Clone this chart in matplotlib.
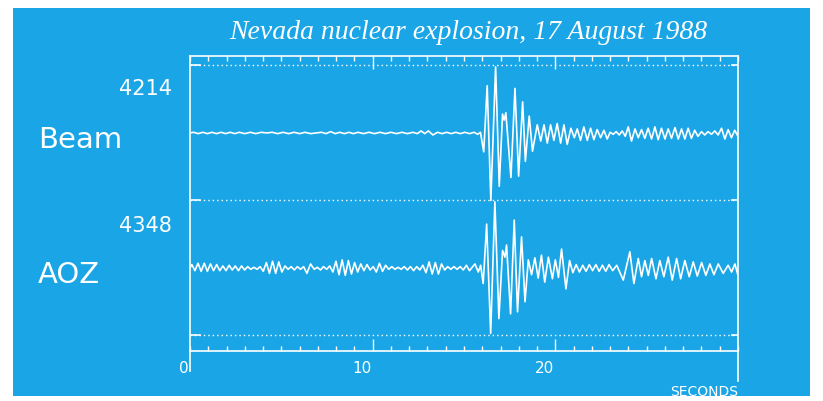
import numpy as np
import matplotlib.pyplot as plt
from matplotlib.patches import Rectangle
from matplotlib.ticker import MultipleLocator

# seismogram traces: time (s), amplitude (% of full scale)
beam_t = [0.0, 0.2, 0.45, 0.7, 0.95, 1.2, 1.45, 1.7, 1.95, 2.2,
          2.45, 2.7, 3.0, 3.3, 3.6, 3.9, 4.2, 4.5, 4.8, 5.1,
          5.4, 5.7, 6.0, 6.3, 6.6, 6.9,
          7.2, 7.45, 7.7, 7.95, 8.2, 8.45, 8.7, 8.95, 9.2, 9.5,
          9.8, 10.1, 10.4, 10.7, 11.0, 11.3, 11.6, 11.9, 12.2, 12.45,
          12.65, 12.85, 13.05, 13.3, 13.55, 13.8, 14.05, 14.3, 14.55, 14.8,
          15.05, 15.3, 15.55, 15.75, 15.9, 16.08,
          16.27, 16.47, 16.73, 16.93, 17.11, 17.2, 17.29, 17.57, 17.79, 17.99,
          18.21, 18.36, 18.57, 18.75,
          19.01, 19.2, 19.38, 19.56, 19.74, 19.92, 20.1, 20.29, 20.47, 20.65,
          20.85, 21.04, 21.2, 21.38, 21.56, 21.75, 21.93, 22.11, 22.29, 22.48,
          22.66, 22.84,
          23.0, 23.17, 23.33, 23.5, 23.66, 23.83, 23.99,
          24.17, 24.36, 24.54, 24.72, 24.9, 25.08, 25.27, 25.45, 25.63, 25.81,
          26.0, 26.18, 26.36, 26.55, 26.73, 26.91, 27.09, 27.27, 27.45, 27.63,
          27.81, 28.0, 28.18, 28.36, 28.55, 28.73, 28.91, 29.1, 29.28, 29.46,
          29.64, 29.82, 30.0]
beam_amp = [0, 1, -1, 1, -1, 1, -1, 1, -1, 1,
            -1, 1, -1, 1, -1, 1, 0, 1, -1, 1,
            -1, 1, -1, 1, -1, 0,
            1, -1, 2, -1, 1, -1, 1, -1, 1, -1,
            1, -1, 1, -1, 1, -1, 1, -1, 1, -1,
            3, -1, 3, -3, 1, -1, 1, -1, 1, -1,
            1, -1, 1, -2, 1, -28,
            70, -100, 98, -79, 28, 19, 30, -66, 66, -64,
            46, -42, 25, -27,
            12, -12, 12, -15, 12, -11, 14, -15, 12, -17,
            7, -7, 6, -11, 9, -11, 7, -10, 5, -7,
            4, -9,
            1, -2, 2, -3, 3, -5, 9,
            -12, 6, -7, 5, -8, 7, -9, 9, -10, 7,
            -9, 6, -8, 8, -9, 6, -9, 7, -8, 4,
            -5, 2, -3, 2, -2, 3, -3, 7, -9, 5,
            -7, 4, -5]

aoz_t = [0.0, 0.1, 0.27, 0.44, 0.61, 0.78, 0.95, 1.12, 1.29, 1.46,
         1.63, 1.8, 1.97, 2.14, 2.31, 2.48, 2.65, 2.82, 2.99, 3.16, 3.33,
         3.5, 3.67, 3.84,
         4.01, 4.18, 4.35, 4.52, 4.69, 4.86, 5.03, 5.2,
         5.37, 5.54, 5.71, 5.88, 6.05, 6.22,
         6.4, 6.6, 6.8,
         6.97, 7.14, 7.31, 7.48, 7.65,
         7.82, 7.99, 8.16, 8.33, 8.5, 8.67, 8.84, 9.01, 9.18,
         9.35, 9.52, 9.69, 9.86,
         10.03, 10.2, 10.37, 10.54, 10.71,
         10.88, 11.05, 11.22, 11.39, 11.56, 11.73, 11.9, 12.07, 12.24, 12.41, 12.58,
         12.75, 12.92, 13.09, 13.26, 13.43, 13.6, 13.77,
         13.94, 14.11, 14.28, 14.45, 14.62, 14.79,
         14.96, 15.13, 15.3,
         15.6, 15.78, 15.91, 16.05, 16.24, 16.46, 16.69, 16.91, 17.11, 17.24,
         17.33, 17.55, 17.75, 17.93, 18.15, 18.34, 18.52, 18.7, 18.88, 19.06,
         19.24, 19.42, 19.62, 19.84, 20.0, 20.17, 20.34, 20.58, 20.78, 20.96,
         21.14, 21.32, 21.5, 21.68, 21.86, 22.04, 22.22, 22.4, 22.58, 22.76,
         22.94, 23.14, 23.36, 23.72, 24.08, 24.3, 24.54, 24.72, 24.9, 25.09,
         25.27, 25.51, 25.72, 25.94, 26.18, 26.4, 26.64, 26.86, 27.09, 27.33,
         27.55, 27.77, 28.01, 28.24, 28.46, 28.68, 28.92, 29.19, 29.46, 29.65,
         29.83, 30.0]
aoz_amp = [0, 5, -4, 7, -5, 7, -5, 6, -4, 5,
           -4, 3, -4, 4, -3, 3, -4, 3, -3, 2, -2,
           1, -2, 2,
           -5, 8, -8, 10, -8, 9, -6, 3,
           -2, 2, -3, 2, -2, 2,
           -8, 6, -2,
           1, -3, 2, -2, 3,
           -6, 10, -10, 12, -11, 11, -9, 8, -6,
           6, -4, 5, -3,
           2, -6, 7, -5, 4,
           -2, 2, -2, 1, -2, 2, -3, 2, -4, 2, -3,
           4, -7, 9, -9, 8, -9, 6,
           -3, 2, -2, 2, -2, 2,
           -3, 4, -4,
           6, -6, 4, -23, 65, -97, 98, -75, 26, 16,
           34, -68, 71, -65, 46, -50, 12, -10, 15, -15,
           19, -21, 16, -16, 12, -14, 28, -31, 11, -7,
           5, -6, 4, -5, 5, -4, 5, -5, 4, -5,
           5, -4, 4, -18, 24, -23, 14, -13, 11, -11,
           14, -16, 11, -13, 16, -18, 14, -16, 11, -13,
           9, -12, 8, -11, 6, -10, 6, -8, 4, -6,
           6, -11]

trace_names = ['Beam', 'AOZ']
trace_scale = ['4214', '4348']
trace_offset = [0, -200]
xtick_labels = [0, 10, 20]
title = 'Nevada nuclear explosion, 17 August 1988'

W, H = 823, 402
BLUE = '#1aa6e6'

fig = plt.figure(figsize=(W / 100, H / 100), dpi=100)
fig.patch.set_facecolor('white')
fig.add_artist(Rectangle((13 / W, 1 - 397 / H), 797 / W, 388 / H, transform=fig.transFigure,
                         facecolor=BLUE, edgecolor='none', zorder=-1))

ax = fig.add_axes([190 / W, 1 - 352 / H, 548 / W, 295 / H])
ax.set_facecolor('none')
ax.set_xlim(0, 30)
ax.set_ylim(-323, 114)
for s in ax.spines.values():
    s.set_color('white')
    s.set_linewidth(1.2)
ax.set_yticks([])
ax.set_xticks([10, 20])
ax.xaxis.set_minor_locator(MultipleLocator(1))
ax.tick_params(axis='x', which='both', direction='in', top=True, bottom=True,
               color='white', width=1, labelbottom=False)
ax.tick_params(axis='x', which='major', length=9)
ax.tick_params(axis='x', which='minor', length=3.5)

# full-scale lines (dotted, with short solid ends)
for y in (100, -100, -300):
    ax.axhline(y, color='white', lw=1, ls=(0, (1, 2.2)))
    ax.plot([0, 0.55], [y, y], color='white', lw=1.2)
    ax.plot([29.65, 30], [y, y], color='white', lw=1.2)

ax.plot(beam_t, np.array(beam_amp) + trace_offset[0], color='white', lw=1.2,
        solid_joinstyle='round')
ax.plot(aoz_t, np.array(aoz_amp) + trace_offset[1], color='white', lw=1.2,
        solid_joinstyle='round')

# frame lines running past the time axis
ax.plot([0, 0], [0, -20 / 295], transform=ax.transAxes, color='white', lw=1.2, clip_on=False)
ax.plot([1, 1], [0, -30 / 295], transform=ax.transAxes, color='white', lw=1.2, clip_on=False)

for v in xtick_labels:
    ax.annotate(str(v), xy=(v, 0), xycoords=('data', 'axes fraction'), xytext=(-1, -15),
                textcoords='offset points', ha='right', va='baseline', color='white', fontsize=11)
fig.text(738 / W, 1 - 396 / H, 'SECONDS', ha='right', va='baseline', color='white', fontsize=10)

# trace names and peak amplitudes
for name, ybase in zip(trace_names, [148, 283]):
    fig.text(38 / W, 1 - ybase / H, name, ha='left', va='baseline', color='white', fontsize=21)
for scale, ybase in zip(trace_scale, [95, 232]):
    fig.text(172 / W, 1 - ybase / H, scale, ha='right', va='baseline', color='white', fontsize=15)

fig.text(468 / W, 1 - 39 / H, title, ha='center', va='baseline', color='white',
         fontsize=20, family='Liberation Serif', style='italic')

fig.savefig('out.png', dpi=100, facecolor=fig.get_facecolor())
